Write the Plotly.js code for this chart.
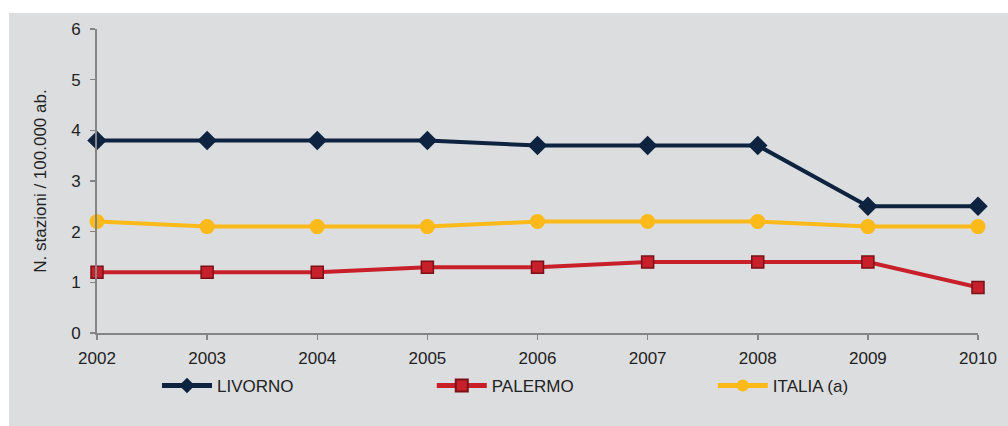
<!DOCTYPE html>
<html><head><meta charset="utf-8">
<script src="https://cdn.plot.ly/plotly-3.0.1.min.js"></script>
<style>
html,body{margin:0;padding:0;background:#fff;}
#chart{position:absolute;left:9px;top:13px;width:999px;height:413px;}
</style></head>
<body><div id="chart"></div>
<script>
const years = [2002,2003,2004,2005,2006,2007,2008,2009,2010];
const livorno = [3.8,3.8,3.8,3.8,3.7,3.7,3.7,2.5,2.5];
const palermo = [1.2,1.2,1.2,1.3,1.3,1.4,1.4,1.4,0.9];
const italia  = [2.2,2.1,2.1,2.1,2.2,2.2,2.2,2.1,2.1];
const names = ['LIVORNO','PALERMO','ITALIA (a)'];

const traces = [
 {x:years,y:livorno,name:names[0],legend:'legend',mode:'lines+markers',cliponaxis:false,
  line:{color:'#0d2340',width:4},marker:{symbol:'diamond',size:15,color:'#0d2340'}},
 {x:years,y:palermo,name:names[1],legend:'legend2',mode:'lines+markers',cliponaxis:false,
  line:{color:'#c8202b',width:4},marker:{symbol:'square',size:12,color:'#c8202b',line:{color:'#7a1018',width:1.5}}},
 {x:years,y:italia,name:names[2],legend:'legend3',mode:'lines+markers',cliponaxis:false,
  line:{color:'#fbb91a',width:4},marker:{symbol:'circle',size:15,color:'#fbb91a'}}
];
const leg = (x) => ({orientation:'h',x:x,xanchor:'left',y:-0.174,yanchor:'middle',itemwidth:50,itemsizing:'constant',
   font:{size:17,color:'#222'},bgcolor:'rgba(0,0,0,0)'});
const layout = {
 width:999,height:413,
 paper_bgcolor:'#dcdddf',plot_bgcolor:'#dcdddf',
 margin:{l:88,r:30,t:16,b:93},
 font:{family:'Liberation Sans, Arial, sans-serif',size:17,color:'#222'},
 showlegend:true,
 legend:leg(0.0681), legend2:leg(0.380), legend3:leg(0.699),
 xaxis:{range:[2002,2010],tickvals:years,ticktext:years.map(String),showgrid:false,zeroline:false,
   showline:true,linecolor:'#858585',linewidth:2,ticks:'outside',ticklen:5,tickcolor:'#858585',tickwidth:1.5,
   ticklabelstandoff:4,tickfont:{size:17,color:'#222'}},
 yaxis:{range:[0,6],dtick:1,showgrid:false,zeroline:false,showline:true,linecolor:'#858585',linewidth:2,
   ticks:'outside',ticklen:5,tickcolor:'#858585',tickwidth:1.5,ticklabelstandoff:6,tickfont:{size:17,color:'#222'},
   title:{text:'N. stazioni / 100.000 ab.',font:{size:17,color:'#222'},standoff:20}}
};
Plotly.newPlot('chart',traces,layout,{displayModeBar:false,staticPlot:true});
</script></body></html>
